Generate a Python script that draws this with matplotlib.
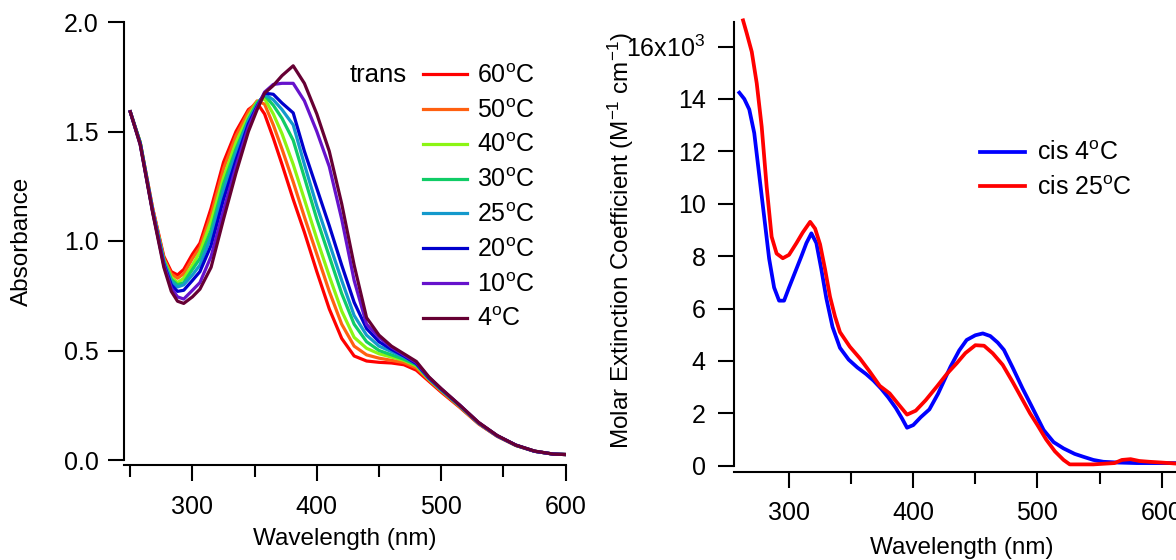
import matplotlib
matplotlib.use('Agg')
import matplotlib.pyplot as plt
from matplotlib.ticker import MultipleLocator, FixedLocator, FixedFormatter

plt.rcParams['font.family'] = ['Liberation Sans', 'DejaVu Sans']
plt.rcParams['mathtext.fontset'] = 'custom'
plt.rcParams['mathtext.rm'] = 'Liberation Sans'
plt.rcParams['mathtext.it'] = 'Liberation Sans:italic'
plt.rcParams['mathtext.bf'] = 'Liberation Sans:bold'
plt.rcParams['mathtext.sf'] = 'Liberation Sans'
plt.rcParams['mathtext.default'] = 'regular'

# ---------------- data: left panel (trans isomer, temperature series) ----------------
trans_nm = [250, 258, 268, 277, 283, 288, 293, 300, 306, 315, 325, 335, 345, 352,
            358, 365, 372, 381, 390, 400, 410, 420, 430, 440, 450, 460, 470, 480,
            490, 500, 515, 530, 545, 560, 575, 590, 600]

trans_labels = ['60$^{o}$C', '50$^{o}$C', '40$^{o}$C', '30$^{o}$C',
                '25$^{o}$C', '20$^{o}$C', '10$^{o}$C', '4$^{o}$C']
trans_colors = ['#FF0000', '#FF6010', '#8CF514', '#10CC66',
                '#1499CC', '#0000CC', '#6612CC', '#660033']

abs_60 = [1.59, 1.45, 1.15, 0.93, 0.86, 0.845, 0.87, 0.94, 0.99, 1.15, 1.36, 1.50, 1.60, 1.63,
          1.58, 1.47, 1.35, 1.19, 1.04, 0.86, 0.69, 0.555, 0.475, 0.452, 0.446, 0.443, 0.435, 0.41,
          0.36, 0.31, 0.24, 0.165, 0.108, 0.066, 0.04, 0.027, 0.025]
abs_50 = [1.59, 1.45, 1.15, 0.92, 0.85, 0.83, 0.85, 0.92, 0.97, 1.12, 1.33, 1.48, 1.59, 1.64,
          1.625, 1.53, 1.42, 1.27, 1.11, 0.94, 0.77, 0.62, 0.52, 0.48, 0.465, 0.455, 0.445, 0.42,
          0.365, 0.315, 0.243, 0.167, 0.109, 0.067, 0.04, 0.027, 0.025]
abs_40 = [1.59, 1.45, 1.14, 0.915, 0.835, 0.81, 0.83, 0.89, 0.95, 1.09, 1.29, 1.45, 1.57, 1.635,
          1.65, 1.58, 1.49, 1.35, 1.19, 1.01, 0.84, 0.68, 0.56, 0.51, 0.485, 0.47, 0.455, 0.43,
          0.37, 0.318, 0.245, 0.168, 0.11, 0.067, 0.04, 0.027, 0.025]
abs_30 = [1.59, 1.45, 1.14, 0.91, 0.825, 0.80, 0.81, 0.87, 0.92, 1.05, 1.26, 1.42, 1.555, 1.63,
          1.665, 1.62, 1.56, 1.46, 1.29, 1.10, 0.93, 0.76, 0.62, 0.54, 0.50, 0.48, 0.46, 0.435,
          0.372, 0.32, 0.247, 0.169, 0.11, 0.067, 0.04, 0.027, 0.025]
abs_25 = [1.59, 1.445, 1.14, 0.905, 0.815, 0.79, 0.80, 0.845, 0.89, 1.02, 1.23, 1.40, 1.55, 1.62,
          1.67, 1.645, 1.60, 1.53, 1.35, 1.16, 0.99, 0.82, 0.66, 0.57, 0.52, 0.495, 0.47, 0.44,
          0.375, 0.322, 0.248, 0.17, 0.11, 0.068, 0.04, 0.027, 0.025]
abs_20 = [1.59, 1.445, 1.135, 0.895, 0.80, 0.77, 0.775, 0.82, 0.86, 0.98, 1.19, 1.37, 1.535, 1.615,
          1.675, 1.67, 1.63, 1.585, 1.41, 1.24, 1.07, 0.89, 0.72, 0.60, 0.54, 0.505, 0.475, 0.44,
          0.375, 0.323, 0.249, 0.17, 0.111, 0.068, 0.04, 0.027, 0.025]
abs_10 = [1.59, 1.44, 1.135, 0.89, 0.785, 0.745, 0.735, 0.775, 0.81, 0.93, 1.14, 1.34, 1.52, 1.61,
          1.68, 1.715, 1.72, 1.72, 1.64, 1.50, 1.34, 1.10, 0.82, 0.62, 0.56, 0.515, 0.48, 0.445,
          0.378, 0.325, 0.25, 0.171, 0.111, 0.068, 0.04, 0.027, 0.025]
abs_4 = [1.59, 1.44, 1.13, 0.88, 0.77, 0.725, 0.715, 0.745, 0.78, 0.88, 1.10, 1.31, 1.50, 1.60,
         1.675, 1.71, 1.755, 1.80, 1.72, 1.58, 1.41, 1.17, 0.89, 0.65, 0.57, 0.52, 0.485, 0.45,
         0.38, 0.326, 0.25, 0.172, 0.112, 0.068, 0.041, 0.027, 0.025]
trans_series = [abs_60, abs_50, abs_40, abs_30, abs_25, abs_20, abs_10, abs_4]

# ---------------- data: right panel (cis isomer) ----------------
cis4_nm = [260, 264, 268, 272, 276, 280, 284, 288, 292, 296, 300, 305, 310, 314, 318, 322,
           326, 330, 335, 341, 348, 355, 362, 368, 374, 380, 386, 391, 395, 400, 406, 413,
           420, 430, 437, 443, 450, 456, 462, 468, 473, 480, 488, 495, 505, 513, 521, 530,
           537, 545, 553, 565, 580, 595, 612]
cis4_eps = [14.24, 14.0, 13.6, 12.7, 11.1, 9.5, 7.9, 6.8, 6.3, 6.3, 6.8, 7.4, 8.0, 8.5, 8.87, 8.5,
            7.5, 6.4, 5.3, 4.5, 4.05, 3.75, 3.5, 3.25, 2.95, 2.6, 2.2, 1.8, 1.45, 1.55, 1.85, 2.15,
            2.75, 3.78, 4.4, 4.8, 4.98, 5.05, 4.95, 4.7, 4.42, 3.75, 2.95, 2.3, 1.36, 0.9, 0.66, 0.45,
            0.34, 0.22, 0.15, 0.12, 0.1, 0.1, 0.1]

cis25_nm = [263, 266, 270, 274, 278, 282, 286, 290, 295, 300, 306, 311, 317, 321, 325, 329,
            333, 337, 341, 349, 357, 365, 373, 381, 388, 395, 402, 410, 419, 427, 435, 442,
            450, 457, 464, 472, 480, 487, 494, 500, 507, 514, 521, 526, 535, 545, 555, 562,
            568, 575, 582, 590, 600, 612]
cis25_eps = [17.0, 16.5, 15.8, 14.6, 12.94, 10.65, 8.74, 8.1, 7.92, 8.05, 8.5, 8.9, 9.31, 9.05, 8.45, 7.5,
             6.45, 5.7, 5.1, 4.54, 4.1, 3.59, 3.05, 2.76, 2.35, 1.95, 2.1, 2.5, 3.02, 3.5, 3.91, 4.3,
             4.6, 4.58, 4.29, 3.85, 3.2, 2.6, 2.0, 1.55, 1.0, 0.55, 0.22, 0.05, 0.05, 0.05, 0.08, 0.1,
             0.22, 0.25, 0.18, 0.15, 0.12, 0.08]

cis_labels = ['cis 4$^{o}$C', 'cis 25$^{o}$C']
cis_colors = ['#0000FF', '#FF0000']

left_xticks = [300, 400, 500, 600]
left_yticks = [0.0, 0.5, 1.0, 1.5, 2.0]
left_yticklabels = ['0.0', '0.5', '1.0', '1.5', '2.0']
right_xticks = [300, 400, 500, 600]
right_yticks = [0, 2, 4, 6, 8, 10, 12, 14, 16]
right_yticklabels = ['0', '2', '4', '6', '8', '10', '12', '14', '16x10$^{3}$']

# ---------------- layout ----------------
W, H = 1176, 560
fig = plt.figure(figsize=(W / 100, H / 100), dpi=100)


def rect(l, t, r, b):
    return [l / W, 1 - b / H, (r - l) / W, (b - t) / H]


FS = 18
LFS = 17.5

ax1 = fig.add_axes(rect(124.4, 22.0, 565.6, 460.0))
ax2 = fig.add_axes(rect(733.5, 21.7, 1190.0, 465.7))

for ax in (ax1, ax2):
    for s in ('top', 'right'):
        ax.spines[s].set_visible(False)
    for s in ('left', 'bottom'):
        ax.spines[s].set_linewidth(1.5)
    ax.tick_params(which='both', direction='out', width=1.5, labelsize=FS)
    ax.tick_params(which='major', length=11.5)
    ax.tick_params(axis='x', which='minor', length=8.5)
    ax.xaxis.set_minor_locator(MultipleLocator(50))

ax1.spines['bottom'].set_position(('outward', 3.6))
ax2.spines['bottom'].set_position(('outward', 4.3))
ax1.tick_params(axis='x', pad=10)
ax2.tick_params(axis='x', pad=9.5)
ax1.tick_params(axis='y', pad=7)
ax2.tick_params(axis='y', pad=8.5)

# left panel
lines = []
for vals, col, lab in zip(trans_series, trans_colors, trans_labels):
    ln, = ax1.plot(trans_nm, vals, color=col, lw=2.3, label=lab, solid_joinstyle='round')
    lines.append(ln)
ax1.set_xlim(245.3, 600)
ax1.set_ylim(0, 2.0)
ax1.xaxis.set_major_locator(FixedLocator(left_xticks))
ax1.yaxis.set_major_locator(FixedLocator(left_yticks))
ax1.yaxis.set_major_formatter(FixedFormatter(left_yticklabels))
ax1.set_xlabel('Wavelength (nm)', fontsize=LFS)
ax1.set_ylabel('Absorbance', fontsize=LFS)
ax1.yaxis.set_label_coords((33 - 124.4) / 441.2, 0.5)
ax1.xaxis.set_label_coords(0.5, (460 - 528) / 438)

leg1 = ax1.legend(handles=lines, loc='upper left',
                  bbox_to_anchor=(423.3 / W, 1 - 64 / H), bbox_transform=fig.transFigure,
                  frameon=False, fontsize=FS, borderpad=0, borderaxespad=0,
                  handlelength=1.74, handletextpad=0.4, labelspacing=0.43)
fig.text(407 / W, 1 - 75 / H, 'trans', ha='right', va='center', fontsize=FS + 0.5)

# right panel
rl = []
for xs, ys, col, lab in zip([cis4_nm, cis25_nm], [cis4_eps, cis25_eps], cis_colors, cis_labels):
    ln, = ax2.plot(xs, ys, color=col, lw=2.7, label=lab, clip_on=False, solid_joinstyle='round')
    rl.append(ln)
ax2.set_xlim(255.3, 622.8)
ax2.set_ylim(0, 16.95)
ax2.xaxis.set_major_locator(FixedLocator(right_xticks))
ax2.yaxis.set_major_locator(FixedLocator(right_yticks))
ax2.yaxis.set_major_formatter(FixedFormatter(right_yticklabels))
ax2.set_xlabel('Wavelength (nm)', fontsize=LFS)
ax2.set_ylabel('Molar Extinction Coefficient (M$^{-1}$ cm$^{-1}$)', fontsize=LFS)
ax2.yaxis.set_label_coords((636 - 733.5) / 456.5, 0.506)
ax2.xaxis.set_label_coords(0.5, (465.7 - 537) / 444)

leg2 = ax2.legend(handles=rl, loc='upper left',
                  bbox_to_anchor=(980 / W, 1 - 141.5 / H), bbox_transform=fig.transFigure,
                  frameon=False, fontsize=FS, borderpad=0, borderaxespad=0,
                  handlelength=1.8, handletextpad=0.47, labelspacing=0.42)

fig.savefig('out.png', dpi=100)
